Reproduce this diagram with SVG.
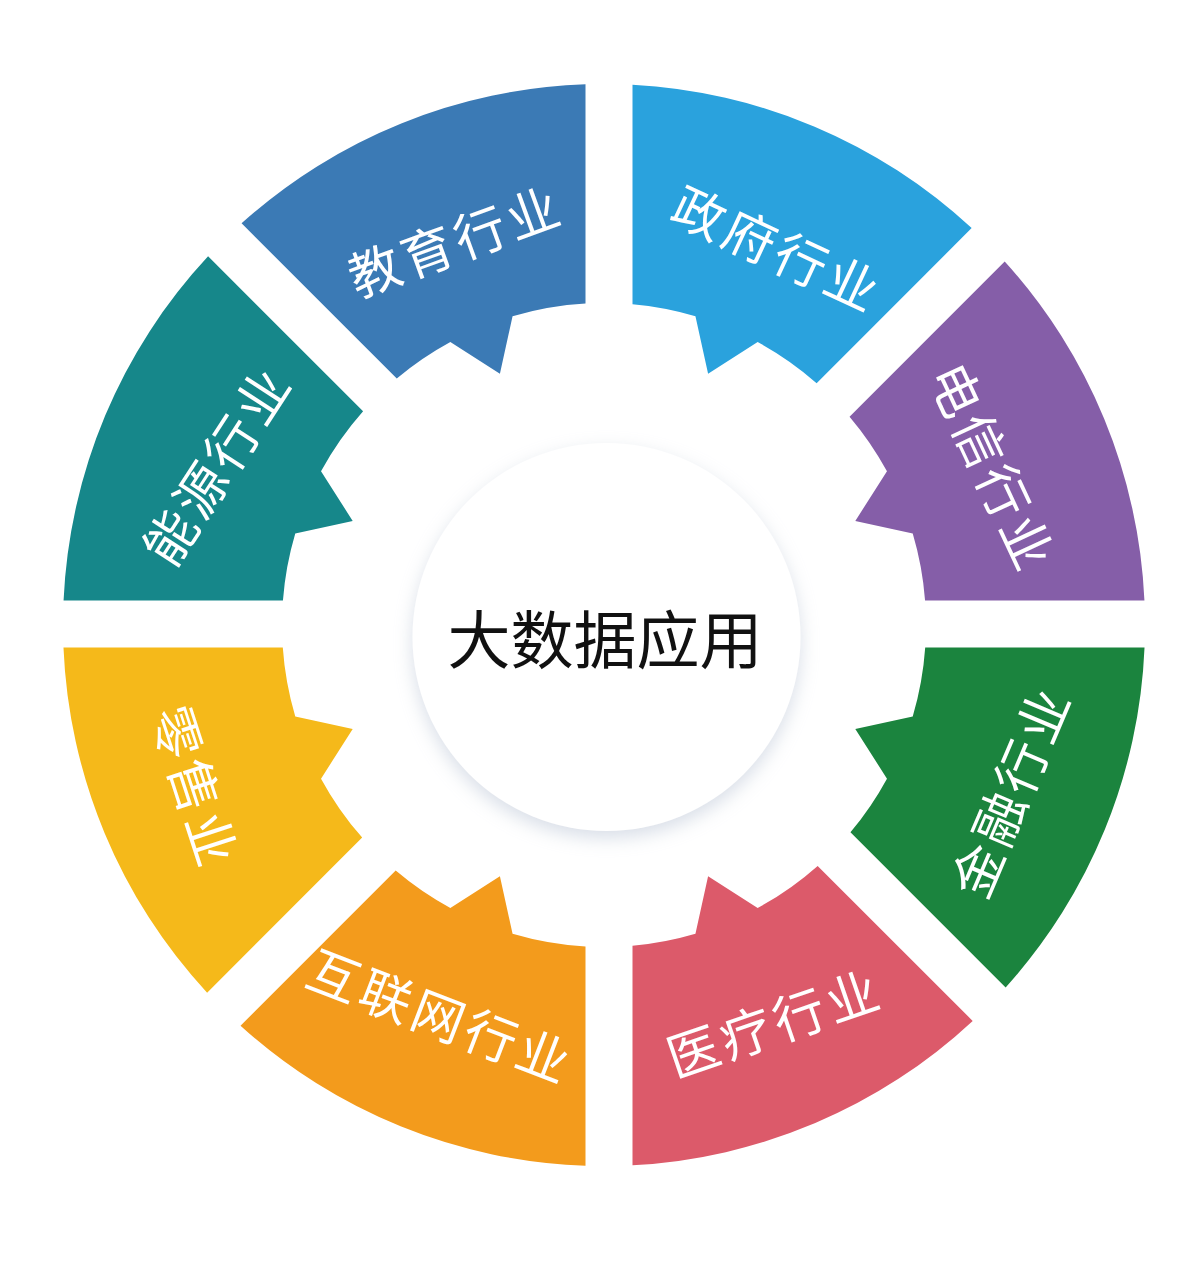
<svg xmlns="http://www.w3.org/2000/svg" width="1200" height="1274" viewBox="0 0 1200 1274">
<style>
.lbl{font-family:"Noto Sans CJK SC","Noto Sans",sans-serif;font-size:52px;fill:#ffffff;text-anchor:middle;dominant-baseline:central;letter-spacing:4px}
.ctr{font-family:"Noto Sans CJK SC","Noto Sans",sans-serif;font-size:63px;fill:#111111;text-anchor:middle;dominant-baseline:central}
</style>
<defs>
<filter id="sh" x="-20%" y="-20%" width="140%" height="140%">
<feDropShadow dx="0" dy="7" stdDeviation="9" flood-color="#aab6cc" flood-opacity="0.45"/>
</filter>
</defs>
<rect x="0" y="0" width="1200" height="1274" fill="#ffffff"/>
<g id="seg-education">
<path fill="#3b7ab5" d="M241.57,223.34 A541,541 0 0 1 585.5,84.32 L585.5,303.53 A322,322 0 0 0 512.55,316.26 L499.91,373.7 L450.35,342.02 A322,322 0 0 0 396.77,378.54 Z"/>
<text class="lbl" transform="translate(454.5,238.5) rotate(-20)">教育行业</text>
</g>
<g id="seg-government">
<path fill="#2aa2dd" d="M632.5,84.75 A541,541 0 0 1 971.65,228.12 L816.61,383.16 A322,322 0 0 0 757.65,342.02 L708.09,373.7 L695.45,316.26 A322,322 0 0 0 632.5,304.26 Z"/>
<text class="lbl" transform="translate(778.5,246.5) rotate(25)">政府行业</text>
</g>
<g id="seg-telecom">
<path fill="#855ea8" d="M1004.71,261.52 A541,541 0 0 1 1144.44,600.5 L925.07,600.5 A322,322 0 0 0 912.74,533.55 L855.3,520.91 L886.98,471.35 A322,322 0 0 0 849.54,416.69 Z"/>
<text class="lbl" transform="translate(995,466.5) rotate(65)">电信行业</text>
</g>
<g id="seg-finance">
<path fill="#1b843e" d="M1144.53,647.5 A541,541 0 0 1 1005.66,987.43 L850.46,832.23 A322,322 0 0 0 886.98,778.65 L855.3,729.09 L912.74,716.45 A322,322 0 0 0 925.21,647.5 Z"/>
<text class="lbl" transform="translate(1008.5,790) rotate(-67)">金融行业</text>
</g>
<g id="seg-medical">
<path fill="#dc5a6a" d="M972.69,1020.92 A541,541 0 0 1 632.5,1165.25 L632.5,945.74 A322,322 0 0 0 695.45,933.74 L708.09,876.3 L757.65,907.98 A322,322 0 0 0 817.67,865.9 Z"/>
<text class="lbl" transform="translate(773.5,1020.5) rotate(-19)">医疗行业</text>
</g>
<g id="seg-internet">
<path fill="#f39b1c" d="M585.5,1165.68 A541,541 0 0 1 240.52,1025.71 L395.69,870.54 A322,322 0 0 0 450.35,907.98 L499.91,876.3 L512.55,933.74 A322,322 0 0 0 585.5,946.47 Z"/>
<text class="lbl" transform="translate(441.5,1014) rotate(21)">互联网行业</text>
</g>
<g id="seg-retail">
<path fill="#f5b91a" d="M207.12,992.65 A541,541 0 0 1 63.47,647.5 L282.79,647.5 A322,322 0 0 0 295.26,716.45 L352.7,729.09 L321.02,778.65 A322,322 0 0 0 362.16,837.61 Z"/>
<text class="lbl" transform="translate(197.5,786.5) rotate(72)">零售业</text>
</g>
<g id="seg-energy">
<path fill="#16878a" d="M63.56,600.5 A541,541 0 0 1 208.08,256.31 L363.1,411.33 A322,322 0 0 0 321.02,471.35 L352.7,520.91 L295.26,533.55 A322,322 0 0 0 282.93,600.5 Z"/>
<text class="lbl" transform="translate(215,463.5) rotate(-57)">能源行业</text>
</g>
<g id="center">
<circle cx="606.5" cy="637" r="194" fill="#ffffff" filter="url(#sh)"/>
<text class="ctr" x="605" y="635">大数据应用</text>
</g>
</svg>
